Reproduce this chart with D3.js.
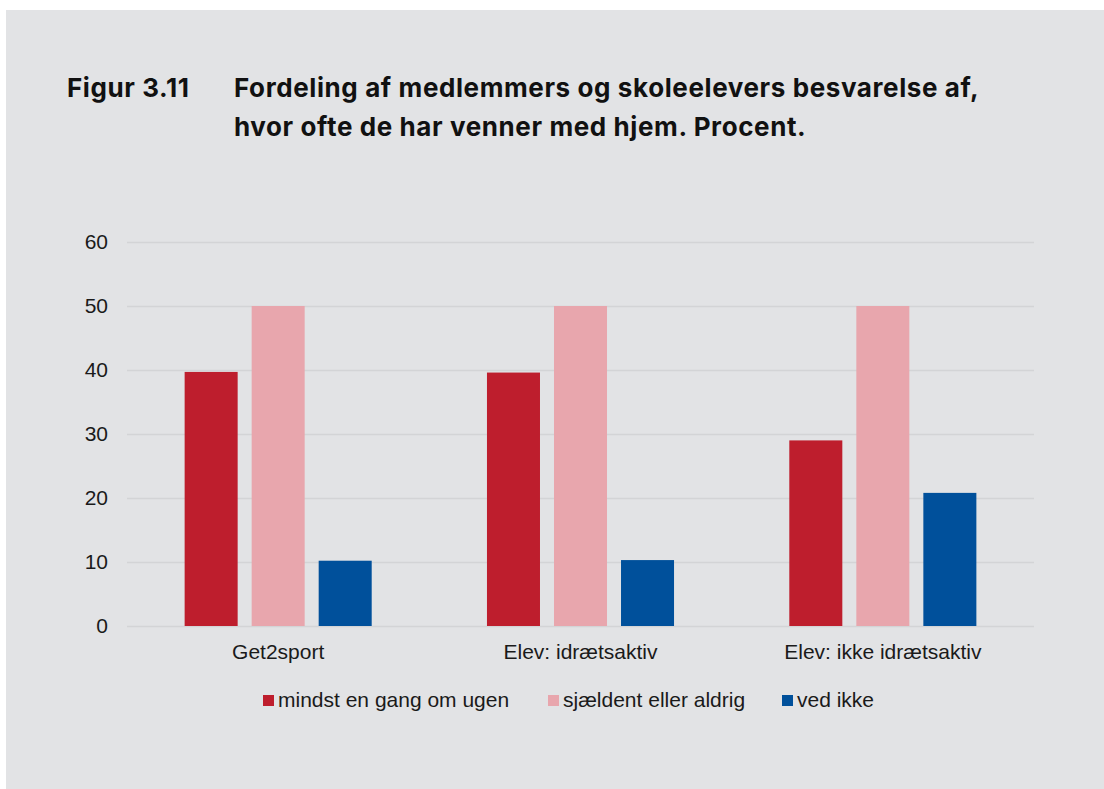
<!DOCTYPE html>
<meta charset="utf-8">
<style>
body { margin: 0; background: #fff; }
.tick text { font-family: "Liberation Sans", Arial, sans-serif; }
</style>
<body>
<script src="https://d3js.org/d3.v7.min.js"></script>
<script>

// data
var categories = ["Get2sport", "Elev: idrætsaktiv", "Elev: ikke idrætsaktiv"];
var series = ["mindst en gang om ugen", "sjældent eller aldrig", "ved ikke"];
var mindst = [39.7, 39.6, 29.0];
var sjaeldent = [50.0, 50.0, 50.0];
var vedIkke = [10.2, 10.3, 20.8];
var yTicks = [0, 10, 20, 30, 40, 50, 60];
var colors = ["#be1e2d", "#e8a6ad", "#00509b"];

var values = [mindst, sjaeldent, vedIkke];

var W = 1104, H = 789;
var svg = d3.select("body").append("svg")
    .attr("width", W)
    .attr("height", H);

// grey panel
svg.append("rect")
    .attr("x", 6).attr("y", 10)
    .attr("width", W - 6).attr("height", H - 10)
    .attr("fill", "#e2e3e5");

// title
var title = svg.append("g")
    .attr("font-family", "Inter, 'Noto Sans', sans-serif")
    .attr("font-weight", "bold")
    .attr("font-size", "26px")
    .attr("letter-spacing", "0.6px")
    .attr("fill", "#111");
title.append("text").attr("x", 67).attr("y", 97).text("Figur 3.11");
title.append("text").attr("x", 234).attr("y", 97)
    .text("Fordeling af medlemmers og skoleelevers besvarelse af,");
title.append("text").attr("x", 234).attr("y", 136)
    .text("hvor ofte de har venner med hjem. Procent.");

// scales
var plotLeft = 127, plotRight = 1034, plotTop = 242, plotBottom = 626;
var x0 = d3.scaleBand().domain(categories).range([plotLeft, plotRight]);
var x1 = d3.scaleBand().domain(series).range([0, x0.bandwidth()])
    .paddingInner(0.209).paddingOuter(0.86);
var y = d3.scaleLinear().domain([0, 60]).range([plotBottom, plotTop]);

// gridlines + y labels
var yAxis = svg.append("g")
    .attr("transform", "translate(" + plotLeft + ",0)")
    .call(d3.axisLeft(y).tickValues(yTicks).tickSize(-(plotRight - plotLeft)).tickPadding(19));
yAxis.select(".domain").remove();
yAxis.selectAll(".tick line").attr("stroke", "#d3d4d6").attr("stroke-width", 1.4);
yAxis.selectAll(".tick text").attr("font-size", "21px").attr("fill", "#1a1a1a");

// bars
var rows = [];
categories.forEach(function(c, i) {
  series.forEach(function(s, j) {
    rows.push({cat: c, ser: s, val: values[j][i], col: colors[j]});
  });
});
svg.append("g").selectAll("rect")
    .data(rows)
    .join("rect")
    .attr("x", function(d) { return x0(d.cat) + x1(d.ser); })
    .attr("y", function(d) { return y(d.val); })
    .attr("width", x1.bandwidth())
    .attr("height", function(d) { return y(0) - y(d.val); })
    .attr("fill", function(d) { return d.col; });

// category labels
var xAxis = svg.append("g")
    .attr("transform", "translate(0," + plotBottom + ")")
    .call(d3.axisBottom(x0).tickSize(0).tickPadding(18));
xAxis.select(".domain").remove();
xAxis.selectAll(".tick text").attr("font-size", "21px").attr("fill", "#1a1a1a");

// legend
var legendX = [263, 548, 782];
var legend = svg.append("g")
    .attr("font-family", "'Liberation Sans', Arial, sans-serif")
    .attr("font-size", "21px")
    .attr("fill", "#1a1a1a");
series.forEach(function(s, i) {
  legend.append("rect")
      .attr("x", legendX[i]).attr("y", 695)
      .attr("width", 11).attr("height", 11)
      .attr("fill", colors[i]);
  legend.append("text")
      .attr("x", legendX[i] + 15).attr("y", 707)
      .text(s);
});

</script>
